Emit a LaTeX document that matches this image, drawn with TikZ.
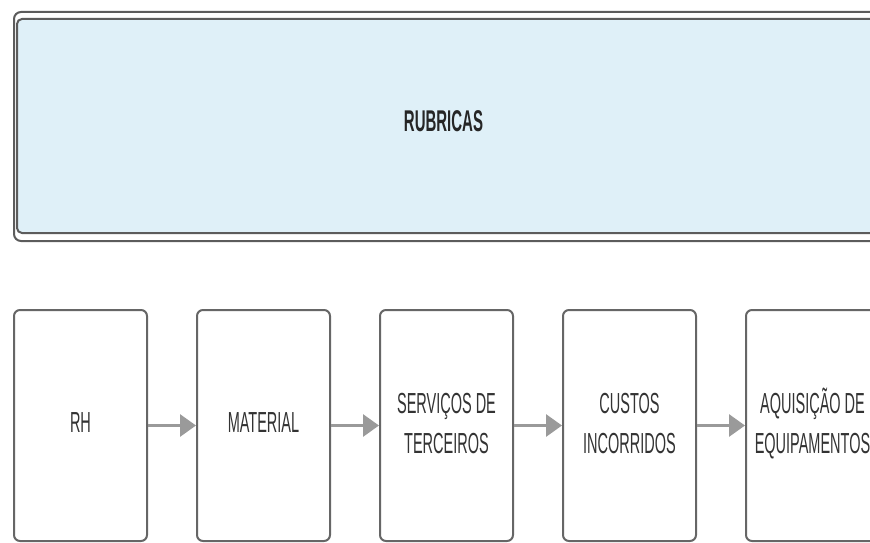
\documentclass[tikz,border=0pt]{standalone}
\usepackage{fontspec}
\setmainfont{Liberation Sans}
\newfontfamily\condfont[FakeStretch=0.5]{Liberation Sans}
\usetikzlibrary{arrows.meta}
\definecolor{panelblue}{HTML}{DFF0F8}
\definecolor{edgegray}{HTML}{5C5C5C}
\definecolor{boxgray}{HTML}{666666}
\definecolor{arrowgray}{HTML}{9A9A9A}
\tikzset{
  stagebox/.style={draw=boxgray, line width=2pt, rounded corners=6pt, fill=white,
    minimum width=133pt, minimum height=231pt, inner sep=0pt,
    align=center, font=\condfont\fontsize{29}{40}\selectfont, text=black!80},
  oneline/.style={text height=21pt, text depth=8pt},
  twoline/.style={text height=61pt, text depth=6pt},
  flow/.style={draw=arrowgray, line width=3pt, -{Triangle[length=16pt,width=22pt]}},
}
\begin{document}
\begin{tikzpicture}[x=1pt,y=-1pt]
\useasboundingbox (0,0) rectangle (870,543);
\clip (0,0) rectangle (870,543);
% heading panel with a double border
\node (rubricas) [draw=edgegray, line width=2pt, rounded corners=7pt, fill=white,
  minimum width=866pt, minimum height=229pt, inner sep=0pt] at (447,126.5) {};
\draw[edgegray, line width=2pt, rounded corners=5pt, fill=panelblue] (17,19) rectangle (880,233);
\node (rubricastitle) [font=\condfont\bfseries\fontsize{30}{36}\selectfont, text=black!85,
  text height=22pt, text depth=0pt, inner sep=0pt] at (443.5,120) {RUBRICAS};
% stages
\node (rh)  [stagebox, oneline] at (80.5,425.5) {RH};
\node (mat) [stagebox, oneline] at (263.5,425.5) {MATERIAL};
\node (ser) [stagebox, twoline] at (446.5,425.5) {SERVIÇOS DE\\TERCEIROS};
\node (cus) [stagebox, twoline] at (629.5,425.5) {CUSTOS\\INCORRIDOS};
\node (aqu) [stagebox, twoline] at (812.5,425.5) {AQUISIÇÃO DE\\EQUIPAMENTOS};
% flow between stages
\draw[flow] (rh.east)  -- (mat.west);
\draw[flow] (mat.east) -- (ser.west);
\draw[flow] (ser.east) -- (cus.west);
\draw[flow] (cus.east) -- (aqu.west);
\end{tikzpicture}
\end{document}
